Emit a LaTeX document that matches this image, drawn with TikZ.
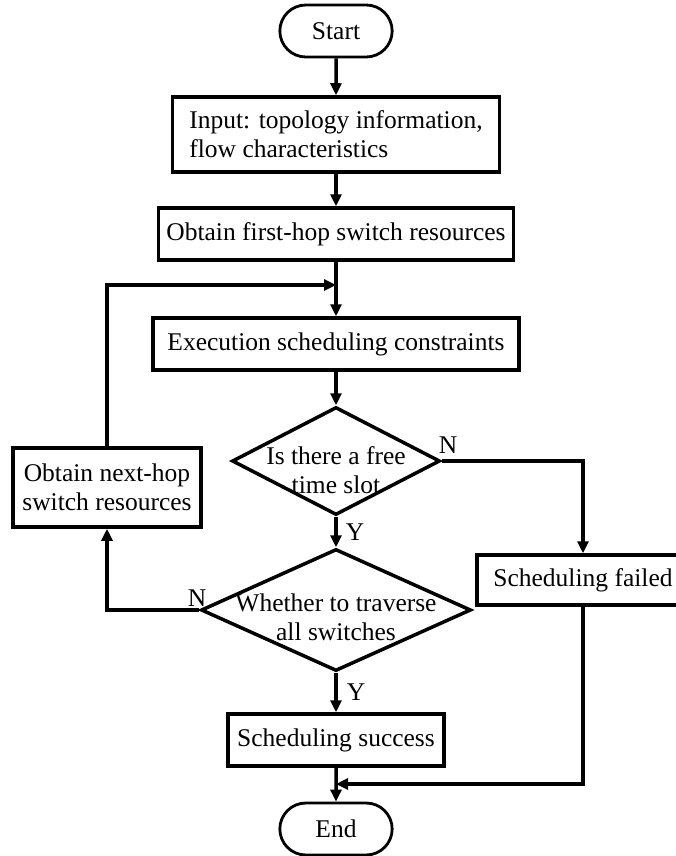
\documentclass[tikz,border=0pt]{standalone}
\usepackage{fontspec}
\setmainfont{Liberation Serif}
\usetikzlibrary{shapes.geometric,shapes.misc,arrows.meta}

\begin{document}
\begin{tikzpicture}[x=1pt,y=-1pt,
    every node/.style={font=\fontsize{25.5}{29}\selectfont},
    terminal/.style={draw,rounded rectangle,line width=2.8pt,minimum width=119pt,minimum height=52pt},
    process/.style={draw,rectangle,line width=3.5pt,align=center,inner sep=0pt},
    decision/.style={draw,diamond,line width=3.5pt,inner sep=0pt},
    flow/.style={line width=3.5pt,-{Triangle[length=12pt,width=11pt]}}]
    \useasboundingbox (0,0) rectangle (676,856);
    \clip (0,0) rectangle (676,856);
    % main column
    \node[terminal] (start) at (336,31) {Start};
    \node[process,minimum width=327pt,minimum height=75pt,align=left] (input) at (336,134.5) {Input: topology information,\\flow characteristics};
    \node[process,minimum width=355pt,minimum height=52pt] (hop1) at (336,234) {Obtain first-hop switch resources};
    \node[process,minimum width=366pt,minimum height=52pt] (exec) at (336,344) {Execution scheduling constraints};
    \node[decision,minimum width=208pt,minimum height=108pt] (free) at (336,461) {};
    \node[align=center,inner sep=0pt] (freetext) at (336,470) {Is there a free\\time slot};
    \node[decision,minimum width=270pt,minimum height=122pt] (trav) at (336,610) {};
    \node[align=center,inner sep=0pt] (travtext) at (336,617) {Whether to traverse\\all switches};
    \node[process,minimum width=216pt,minimum height=52pt] (succ) at (336,740) {Scheduling success};
    \node[terminal] (end) at (336,829) {End};
    % side boxes
    \node[process,minimum width=188pt,minimum height=79pt] (next) at (107,487.5) {Obtain next-hop\\switch resources};
    \node[process,minimum width=212pt,minimum height=50pt] (fail) at (583,580) {Scheduling failed};
    \coordinate (loop) at (336,285);
    \coordinate (merge) at (336,784);
    % connectors
    \draw[flow] (start) -- (input);
    \draw[flow] (input) -- (hop1);
    \draw[flow] (hop1) -- (exec);
    \draw[flow] (next.north) |- (loop);
    \draw[flow] (exec) -- (free);
    \draw[flow] (free.east) -| (fail.north);
    \draw[flow] (free) -- (trav);
    \draw[flow] (trav.west) -| (next.south);
    \draw[flow] (trav) -- (succ);
    \draw[flow] (succ) -- (end);
    \draw[flow] (fail.south) |- (merge);
    % branch labels
    \node (n1) at (448,445) {N};
    \node (y1) at (355,532) {Y};
    \node (n2) at (197,598) {N};
    \node (y2) at (356,692) {Y};
\end{tikzpicture}
\end{document}
